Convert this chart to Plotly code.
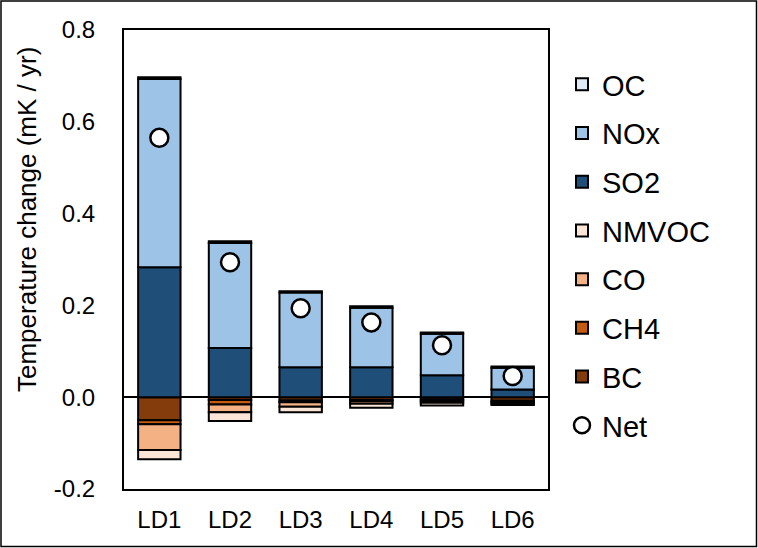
import plotly.graph_objects as go

categories = ["LD1", "LD2", "LD3", "LD4", "LD5", "LD6"]
oc = [0.004, 0.004, 0.003, 0.003, 0.003, 0.003]
nox = [0.410, 0.229, 0.163, 0.130, 0.090, 0.047]
so2 = [0.283, 0.107, 0.065, 0.065, 0.048, 0.017]
nmvoc = [-0.020, -0.019, -0.012, -0.009, -0.006, -0.003]
co = [-0.056, -0.017, -0.010, -0.005, -0.004, -0.003]
ch4 = [-0.009, -0.010, -0.004, -0.003, -0.003, -0.003]
bc = [-0.050, -0.006, -0.007, -0.006, -0.005, -0.008]
net = [0.565, 0.294, 0.194, 0.163, 0.113, 0.046]
ytick_vals = [-0.2, 0.0, 0.2, 0.4, 0.6, 0.8]
ytick_text = ["-0.2", "0.0", "0.2", "0.4", "0.6", "0.8"]
y_title = "Temperature change (mK / yr)"

FONT = "Liberation Sans, Arial, sans-serif"

series = [
    # name, values, color, legend rank (stack order = list order)
    ("BC", bc, "#843C0C", 7),
    ("CH4", ch4, "#C55A11", 6),
    ("CO", co, "#F4B183", 5),
    ("NMVOC", nmvoc, "#FBE5D6", 4),
    ("SO2", so2, "#1F4E79", 3),
    ("NOx", nox, "#9DC3E6", 2),
    ("OC", oc, "#DEEBF7", 1),
]

fig = go.Figure()
for name, vals, color, rank in series:
    fig.add_trace(go.Bar(
        x=categories, y=vals, name=name,
        marker=dict(color=color, line=dict(color="black", width=2)),
        legendgroup=name, legendrank=rank,
    ))

fig.add_trace(go.Scatter(
    x=categories, y=net, name="Net", mode="markers",
    marker=dict(symbol="circle", size=18, color="white",
                line=dict(color="black", width=2.5)),
    legendgroup="Net", legendrank=8,
))

W, H = 758, 548
L, R, T, B = 124, 210, 30, 59
pw, ph = W - L - R, H - T - B

fig.update_layout(
    width=W, height=H,
    margin=dict(l=L, r=R, t=T, b=B, autoexpand=False),
    paper_bgcolor="white", plot_bgcolor="white",
    barmode="relative", bargap=0.4,
    font=dict(family=FONT, size=24, color="black"),
    showlegend=True,
    legend=dict(
        x=(562 - L) / pw, xanchor="left",
        y=1 - (59 - T) / ph, yanchor="top",
        traceorder="grouped", tracegroupgap=8,
        font=dict(family=FONT, size=29, color="black"),
        bgcolor="rgba(0,0,0,0)", itemwidth=30,
    ),
    xaxis=dict(
        showline=True, linecolor="black", linewidth=2, mirror=True,
        ticks="", ticklabelstandoff=8, showgrid=False,
        tickfont=dict(family=FONT, size=24, color="black"),
    ),
    yaxis=dict(
        range=[-0.2, 0.8], tickvals=ytick_vals, ticktext=ytick_text,
        showline=True, linecolor="black", linewidth=2, mirror=True,
        showgrid=False, zeroline=True, zerolinecolor="black", zerolinewidth=2,
        ticks="", ticklabelstandoff=22,
        tickfont=dict(family=FONT, size=24, color="black"),
    ),
    annotations=[dict(
        text=y_title, textangle=-90, showarrow=False,
        xref="paper", yref="paper",
        x=(27 - L) / pw, xanchor="center",
        y=1 - (220 - T) / ph, yanchor="middle",
        font=dict(family=FONT, size=26, color="black"),
    )],
    shapes=[dict(
        type="rect", xref="paper", yref="paper",
        x0=(1 - L) / pw, x1=(W - 1.5 - L) / pw,
        y0=-(B - 1.5) / ph, y1=1 + (T - 1) / ph,
        line=dict(color="black", width=1.5), layer="above",
    )],
)

fig.write_html(
    "out.html",
    config={"displayModeBar": False},
    post_script="document.body.style.margin='0';document.body.style.overflow='hidden';",
)
